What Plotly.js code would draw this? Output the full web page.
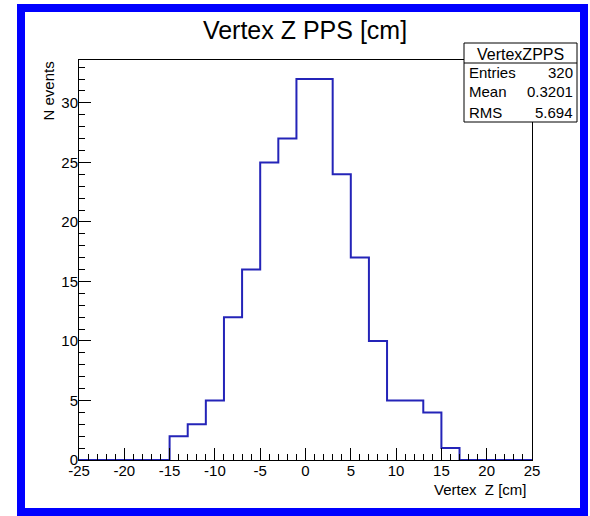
<!DOCTYPE html>
<html>
<head>
<meta charset="utf-8">
<script src="https://cdn.plot.ly/plotly-3.0.1.min.js"></script>
<style>
html,body{margin:0;padding:0;background:#fff;}
#chart{width:590px;height:516px;}
</style>
</head>
<body>
<div id="chart"></div>
<script>
// ---- data ----
const histName = "VertexZPPS";
const binLow = -25;
const binWidth = 2;
const counts = [0,0,0,0,0, 2,3,5,12,16,25,27,32,32,24,17,10,5,5,4,1, 0,0,0,0];
const statLabels = ["Entries", "Mean", "RMS"];
const statValues = ["320", "0.3201", "5.694"];
const xTickVals = [-25,-20,-15,-10,-5,0,5,10,15,20,25];
const yTickVals = [0,5,10,15,20,25,30];

// step outline built from bin edges and counts
const sx = [], sy = [];
for (let i = 0; i < counts.length; i++) {
  sx.push(binLow + i*binWidth); sy.push(counts[i]);
}
sx.push(binLow + counts.length*binWidth); sy.push(counts[counts.length-1]);

const W = 590, H = 516;
const L = 79, R = 532, T = 60, B = 460;
const pw = R - L, ph = B - T;
const px = v => (v - L)/pw;
const py = v => (B - v)/ph;

const FONT = "Liberation Sans, Arial, Helvetica, sans-serif";

const trace = {
  x: sx, y: sy, type: 'scatter', mode: 'lines',
  line: {shape: 'hv', color: '#2424b8', width: 2},
  hoverinfo: 'skip', showlegend: false
};

const yMax = Math.max(...counts) * 1.05;

const shapes = [
  // outer blue frame
  {type:'rect', xref:'paper', yref:'paper', x0: px(21), x1: px(584), y0: py(512), y1: py(8),
   line:{color:'rgb(0,0,255)', width:8}, fillcolor:'rgba(0,0,0,0)', layer:'below'},
  // stats box
  {type:'rect', xref:'paper', yref:'paper', x0: px(464), x1: px(577), y0: py(122), y1: py(43),
   line:{color:'#000', width:1}, fillcolor:'#fff', layer:'above'},
  {type:'line', xref:'paper', yref:'paper', x0: px(464), x1: px(577), y0: py(63), y1: py(63),
   line:{color:'#000', width:1}, layer:'above'}
];

const annotations = [
  {xref:'paper', yref:'paper', x: px(520.5), y: py(54), text: histName, showarrow:false,
   xanchor:'center', yanchor:'middle', font:{family:FONT, size:16, color:'#000'}},
  // axis titles
  {xref:'paper', yref:'paper', x: px(529), y: py(489), text: 'Vertex\u00a0 Z [cm]', showarrow:false,
   xanchor:'right', yanchor:'middle', font:{family:FONT, size:15, color:'#000'}},
  {xref:'paper', yref:'paper', x: px(48), y: py(60), text: 'N events', showarrow:false, textangle:-90,
   xanchor:'center', yanchor:'top', font:{family:FONT, size:15, color:'#000'}}
];
const rowY = [73, 92, 112];
for (let i = 0; i < statLabels.length; i++) {
  annotations.push({xref:'paper', yref:'paper', x: px(467), y: py(rowY[i]), text: statLabels[i],
    showarrow:false, xanchor:'left', yanchor:'middle', font:{family:FONT, size:15, color:'#000'}});
  annotations.push({xref:'paper', yref:'paper', x: px(575), y: py(rowY[i]), text: statValues[i],
    showarrow:false, xanchor:'right', yanchor:'middle', font:{family:FONT, size:15, color:'#000'}});
}

const layout = {
  width: W, height: H,
  margin: {l: L, r: W - R, t: T, b: H - B, pad: 0},
  paper_bgcolor: '#fff', plot_bgcolor: '#fff',
  title: {text: 'Vertex Z PPS [cm]', x: 305/W, xanchor:'center', y: 1 - 30/H, yanchor:'middle',
          font:{family:FONT, size:25, color:'#000'}},
  xaxis: {
    range: [binLow, binLow + counts.length*binWidth],
    tickmode:'array', tickvals: xTickVals, ticktext: xTickVals.map(String),
    ticks:'inside', ticklen:12, tickwidth:1, tickcolor:'#000',
    minor:{dtick:1, tick0:0, ticks:'inside', ticklen:6, tickwidth:1, tickcolor:'#000', showgrid:false},
    showline:true, linecolor:'#000', linewidth:1, mirror:true,
    showgrid:false, zeroline:false, layer:'above traces',
    ticklabelstandoff: -3,
    tickfont:{family:FONT, size:15, color:'#000'}, fixedrange:true
  },
  yaxis: {
    range: [0, yMax],
    tickmode:'array', tickvals: yTickVals, ticktext: yTickVals.map(String),
    ticks:'inside', ticklen:12, tickwidth:1, tickcolor:'#000',
    minor:{dtick:1, tick0:0, ticks:'inside', ticklen:6, tickwidth:1, tickcolor:'#000', showgrid:false},
    showline:true, linecolor:'#000', linewidth:1, mirror:true,
    showgrid:false, zeroline:false, layer:'above traces',
    ticklabelstandoff: -3,
    tickfont:{family:FONT, size:15, color:'#000'}, fixedrange:true
  },
  shapes: shapes,
  annotations: annotations,
  showlegend:false
};

Plotly.newPlot('chart', [trace], layout, {staticPlot:true, displayModeBar:false});
</script>
</body>
</html>
